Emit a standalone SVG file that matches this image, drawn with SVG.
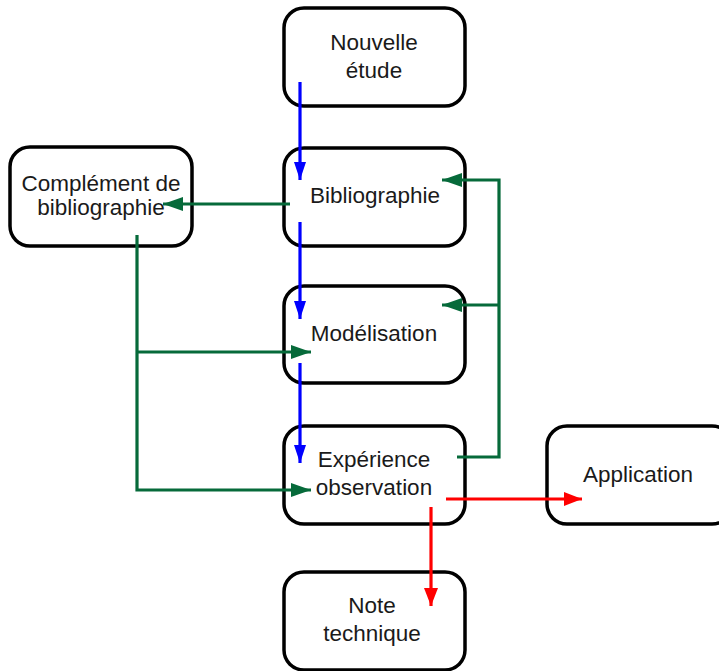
<svg xmlns="http://www.w3.org/2000/svg" width="719" height="671" viewBox="0 0 719 671">
<style>
.box{fill:#fff;stroke:#000;stroke-width:3.5}
.t{font-family:"Liberation Sans",Arial,sans-serif;font-size:22.5px;fill:#1a1a1a;text-anchor:middle}
.c{fill:none;stroke-width:3.2}
.b{stroke:#0000ff}
.g{stroke:#066a3a}
.r{stroke:#ff0000}
</style>
<defs>
<marker id="ab" markerUnits="userSpaceOnUse" markerWidth="18" markerHeight="12" refX="18" refY="6" orient="auto"><path d="M0,0 L18,6 L0,12 z" fill="#0000ff"/></marker>
<marker id="ag" markerUnits="userSpaceOnUse" markerWidth="20" markerHeight="14" refX="20" refY="7" orient="auto"><path d="M0,0 L20,7 L0,14 z" fill="#066a3a"/></marker>
<marker id="ar" markerUnits="userSpaceOnUse" markerWidth="18" markerHeight="14" refX="18" refY="7" orient="auto"><path d="M0,0 L18,7 L0,14 z" fill="#ff0000"/></marker>
</defs>
<g id="n-nouvelle"><rect class="box" x="284" y="8" width="181" height="98" rx="20"/><text class="t" x="374" y="50">Nouvelle</text><text class="t" x="374" y="78">étude</text></g>
<g id="n-biblio"><rect class="box" x="284" y="148" width="181" height="98" rx="20"/><text class="t" x="375" y="203">Bibliographie</text></g>
<g id="n-complement"><rect class="box" x="10" y="147" width="182" height="99" rx="20"/><text class="t" x="101" y="191">Complément de</text><text class="t" x="101" y="215">bibliographie</text></g>
<g id="n-model"><rect class="box" x="284" y="286" width="181" height="97" rx="20"/><text class="t" x="374" y="341">Modélisation</text></g>
<g id="n-exp"><rect class="box" x="284" y="426" width="181" height="98" rx="20"/><text class="t" x="374" y="467">Expérience</text><text class="t" x="374" y="495">observation</text></g>
<g id="n-app"><rect class="box" x="547" y="426" width="185" height="98" rx="20"/><text class="t" x="638" y="482">Application</text></g>
<g id="n-note"><rect class="box" x="284" y="572" width="181" height="98" rx="20"/><text class="t" x="372" y="613">Note</text><text class="t" x="372" y="641">technique</text></g>
<g id="connectors">
<path class="c b" d="M300,82 V180" marker-end="url(#ab)"/>
<path class="c b" d="M300,222 V319" marker-end="url(#ab)"/>
<path class="c b" d="M300,363 V463" marker-end="url(#ab)"/>
<path class="c g" d="M290,204 H163" marker-end="url(#ag)"/>
<path class="c g" d="M137,235 V490 H311" marker-end="url(#ag)"/>
<path class="c g" d="M137,352 H311" marker-end="url(#ag)"/>
<path class="c g" d="M457,457 H499 V180 H442" marker-end="url(#ag)"/>
<path class="c g" d="M499,305 H442" marker-end="url(#ag)"/>
<path class="c r" d="M446,499 H582" marker-end="url(#ar)"/>
<path class="c r" d="M431,507 V606" marker-end="url(#ar)"/>
</g>
</svg>
